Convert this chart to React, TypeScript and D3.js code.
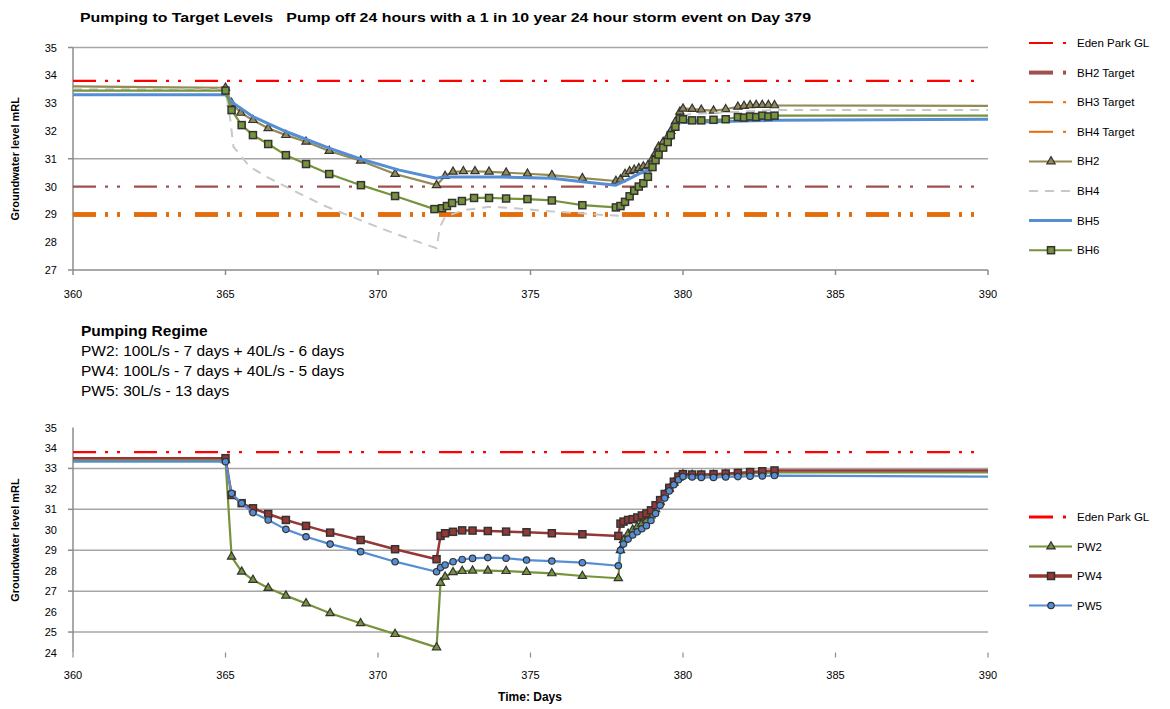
import React from "react";
import * as d3 from "d3";

// ---------- axis data ----------
const xTicks = [360, 365, 370, 375, 380, 385, 390];
const topYTicks = [27, 28, 29, 30, 31, 32, 33, 34, 35];
const topGridValues = [35, 31];
const topAxisTickValues = [35, 31, 27];
const bottomYTicks = [24, 25, 26, 27, 28, 29, 30, 31, 32, 33, 34, 35];
const bottomGridValues = [33, 31, 29, 27, 25];

// ---------- reference levels ----------
const edenParkGL = 33.8;
const bh2Target = 30;
const bh3Target = 29;
const bh4Target = 29;

// ---------- top chart series ----------
const bh2Days = [360, 365, 365.2, 365.5, 365.9, 366.4, 366.98, 367.64, 368.4, 369.43, 370.56, 371.92, 372.2, 372.46, 372.8, 373.18, 373.64, 374.2, 374.9, 375.7, 376.7, 377.8, 377.95, 378.1, 378.25, 378.4, 378.55, 378.7, 378.85, 379.0, 379.1, 379.2, 379.35, 379.5, 379.6, 379.75, 379.9, 380.0, 380.3, 380.6, 381.0, 381.4, 381.8, 382.0, 382.2, 382.4, 382.6, 382.8, 383.0, 390];
const bh2Values = [33.6, 33.55, 33.0, 32.65, 32.39, 32.1, 31.85, 31.61, 31.28, 30.93, 30.45, 30.05, 30.38, 30.53, 30.55, 30.55, 30.53, 30.5, 30.46, 30.41, 30.3, 30.2, 30.25, 30.45, 30.55, 30.6, 30.66, 30.72, 30.77, 31.0, 31.2, 31.43, 31.6, 31.79, 32.0, 32.33, 32.69, 32.8, 32.79, 32.76, 32.73, 32.78, 32.87, 32.9, 32.92, 32.93, 32.93, 32.93, 32.92, 32.9];

const bh4Days = [360, 365, 365.16, 365.26, 365.8, 366.35, 367.1, 368.2, 369.4, 370.5, 371.92, 372.03, 372.2, 372.8, 373.67, 374.5, 375.5, 376.5, 377.5, 377.9, 378.3, 378.7, 379.0, 379.3, 379.6, 379.9, 380.2, 381, 382, 383, 390];
const bh4Values = [33.5, 33.5, 32.39, 31.43, 30.71, 30.35, 29.93, 29.33, 28.8, 28.33, 27.78, 28.55, 28.91, 29.15, 29.27, 29.22, 29.12, 29.05, 28.97, 28.95, 29.6, 30.2, 30.7, 31.3, 31.9, 32.5, 32.6, 32.65, 32.7, 32.75, 32.75];

const bh5Days = [360, 365, 365.26, 365.9, 367.0, 368.4, 369.4, 370.7, 371.92, 372.1, 374.0, 375.7, 376.7, 377.8, 378.15, 378.6, 378.9, 379.25, 379.57, 379.84, 380.0, 383, 390];
const bh5Values = [33.3, 33.3, 33.0, 32.51, 31.97, 31.38, 31.0, 30.59, 30.3, 30.34, 30.34, 30.3, 30.17, 30.05, 30.23, 30.48, 30.59, 31.13, 31.92, 32.39, 32.3, 32.38, 32.42];

const bh6Days = [360, 365, 365.2, 365.53, 365.9, 366.4, 366.98, 367.64, 368.4, 369.44, 370.56, 371.85, 372.1, 372.26, 372.43, 372.75, 373.15, 373.64, 374.2, 374.9, 375.7, 376.7, 377.8, 377.95, 378.1, 378.25, 378.4, 378.55, 378.7, 378.85, 379.0, 379.1, 379.2, 379.35, 379.5, 379.6, 379.75, 379.9, 380.0, 380.3, 380.6, 381.0, 381.4, 381.8, 382.0, 382.2, 382.4, 382.6, 382.8, 383.0, 390];
const bh6Values = [33.45, 33.45, 32.75, 32.21, 31.85, 31.53, 31.13, 30.81, 30.45, 30.05, 29.66, 29.19, 29.22, 29.3, 29.41, 29.48, 29.59, 29.59, 29.57, 29.55, 29.5, 29.33, 29.25, 29.3, 29.45, 29.65, 29.85, 30.0, 30.12, 30.35, 30.7, 30.95, 31.15, 31.4, 31.6, 31.85, 32.15, 32.45, 32.42, 32.38, 32.38, 32.4, 32.42, 32.5, 32.48, 32.52, 32.5, 32.55, 32.52, 32.55, 32.55];

// ---------- bottom chart series ----------
const pwDays = [360, 365, 365.2, 365.53, 365.9, 366.4, 366.98, 367.64, 368.43, 369.43, 370.56, 371.92, 372.05, 372.2, 372.46, 372.76, 373.1, 373.6, 374.2, 374.87, 375.7, 376.7, 377.88, 377.95, 378.05, 378.2, 378.35, 378.5, 378.65, 378.8, 378.95, 379.1, 379.25, 379.4, 379.55, 379.7, 379.85, 380.0, 380.3, 380.6, 381.0, 381.4, 381.8, 382.2, 382.6, 383.0, 390];
const pw2Values = [33.4, 33.4, 28.68, 27.95, 27.55, 27.15, 26.78, 26.4, 25.92, 25.43, 24.9, 24.25, 27.4, 27.7, 27.92, 27.98, 28.0, 28.0, 27.98, 27.93, 27.87, 27.74, 27.63, 29.0, 29.5, 29.8, 30.0, 30.15, 30.3, 30.45, 30.7, 31.0, 31.35, 31.7, 32.0, 32.3, 32.55, 32.7, 32.68, 32.66, 32.68, 32.7, 32.72, 32.75, 32.78, 32.8, 32.8];
const pw4Values = [33.5, 33.5, 31.7, 31.3, 31.05, 30.77, 30.48, 30.19, 29.86, 29.5, 29.05, 28.56, 29.7, 29.83, 29.9, 29.97, 29.96, 29.94, 29.91, 29.88, 29.83, 29.78, 29.7, 30.3, 30.4, 30.48, 30.52, 30.6, 30.7, 30.8, 30.95, 31.2, 31.45, 31.75, 32.05, 32.35, 32.6, 32.72, 32.7, 32.7, 32.72, 32.75, 32.78, 32.82, 32.86, 32.9, 32.9];
const pw5Values = [33.33, 33.33, 31.78, 31.3, 30.84, 30.48, 30.02, 29.66, 29.3, 28.93, 28.44, 27.95, 28.15, 28.28, 28.44, 28.55, 28.6, 28.64, 28.61, 28.52, 28.47, 28.39, 28.24, 29.0, 29.3, 29.55, 29.75, 29.9, 30.05, 30.2, 30.45, 30.8, 31.2, 31.55, 31.9, 32.2, 32.45, 32.6, 32.58, 32.56, 32.56, 32.58, 32.6, 32.62, 32.63, 32.65, 32.6];

// ---------- text ----------
const topTitle = "Pumping to Target Levels   Pump off 24 hours with a 1 in 10 year 24 hour storm event on Day 379";
const regimeLines = [
  "Pumping Regime",
  "PW2: 100L/s - 7 days + 40L/s - 6 days",
  "PW4: 100L/s - 7 days + 40L/s - 5 days",
  "PW5: 30L/s - 13 days",
];
const yTitle = "Groundwater level mRL";
const xTitle = "Time: Days";
const topLegendLabels = ["Eden Park GL", "BH2 Target", "BH3 Target", "BH4 Target", "BH2", "BH4", "BH5", "BH6"];
const bottomLegendLabels = ["Eden Park GL", "PW2", "PW4", "PW5"];

const FONT = "'Liberation Sans', Arial, sans-serif";
const C = {
  red: "#FF0000",
  brownRed: "#A0504E",
  orange: "#E46C0A",
  khaki: "#948A54",
  grey: "#C8C8C8",
  blue: "#558ED5",
  green: "#77933C",
  pw4: "#953735",
  axis: "#8C8C8C",
  grid: "#A6A6A6",
  edge: "#333333",
};
const DASH_DOT_DOT = "23,9,3,9,3,14";

type MarkerKind = "triangle" | "square" | "circle" | null;

function Marker({ kind, x, y, fill }: { kind: MarkerKind; x: number; y: number; fill: string }) {
  if (!kind) return null;
  if (kind === "square") {
    return <rect x={x - 3.5} y={y - 3.5} width={7} height={7} fill={fill} stroke={C.edge} strokeWidth={1.5} />;
  }
  if (kind === "circle") {
    return <circle cx={x} cy={y} r={3.2} fill={fill} stroke={C.edge} strokeWidth={1.2} />;
  }
  const p = d3.symbol(d3.symbolTriangle, 30)();
  return <path d={p || ""} transform={`translate(${x},${y})`} fill={fill} stroke={C.edge} strokeWidth={1.2} />;
}

function Series({
  days, values, x, y, color, width, dash, marker,
}: {
  days: number[]; values: number[]; x: d3.ScaleLinear<number, number>; y: d3.ScaleLinear<number, number>;
  color: string; width: number; dash?: string; marker: MarkerKind;
}) {
  const pts: [number, number][] = days.map((d, i) => [d, values[i]]);
  const line = d3.line<[number, number]>().x((p) => x(p[0])).y((p) => y(p[1]));
  return (
    <g>
      <path d={line(pts) || ""} fill="none" stroke={color} strokeWidth={width} strokeDasharray={dash} strokeLinejoin="round" />
      {marker &&
        pts
          .filter((p) => p[0] > 360 && p[0] < 389)
          .map((p, i) => <Marker key={i} kind={marker} x={x(p[0])} y={y(p[1])} fill={color} />)}
    </g>
  );
}

function HRef({ value, x, y, color, width }: { value: number; x: d3.ScaleLinear<number, number>; y: d3.ScaleLinear<number, number>; color: string; width: number }) {
  return (
    <line x1={x(360)} x2={x(390)} y1={y(value)} y2={y(value)} stroke={color} strokeWidth={width} strokeDasharray={DASH_DOT_DOT} />
  );
}

function LegendEntry({ label, yPos, color, width, kind, marker, dash }: {
  label: string; yPos: number; color: string; width: number; kind: "dashdot" | "line"; marker?: MarkerKind; dash?: string;
}) {
  return (
    <g>
      {kind === "dashdot" ? (
        <>
          <line x1={1029} x2={1053} y1={yPos} y2={yPos} stroke={color} strokeWidth={width} />
          <line x1={1063} x2={1066} y1={yPos} y2={yPos} stroke={color} strokeWidth={width} />
        </>
      ) : (
        <line x1={1029} x2={1072} y1={yPos} y2={yPos} stroke={color} strokeWidth={width} strokeDasharray={dash} />
      )}
      {marker && <Marker kind={marker} x={1051} y={yPos} fill={color} />}
      <text x={1077} y={yPos + 4} fontSize={11.5} fontFamily={FONT} fill="#000">{label}</text>
    </g>
  );
}

export default function App() {
  const xTop = d3.scaleLinear().domain([360, 390]).range([73, 988]);
  const yTop = d3.scaleLinear().domain([27, 35]).range([270, 47.5]);
  const xBot = d3.scaleLinear().domain([360, 390]).range([73, 988]);
  const yBot = d3.scaleLinear().domain([24, 35]).range([652.5, 427.5]);

  const topLegendY = topLegendLabels.map((_, i) => 43 + i * 29.6);
  const botLegendY = bottomLegendLabels.map((_, i) => 517 + i * 29.5);

  return (
    <svg width={1170} height={709} style={{ position: "absolute", left: 0, top: 0, background: "#fff" }}>
      <rect width={1170} height={709} fill="#fff" />
      {/* ---------- TOP CHART ---------- */}
      <text x={80} y={22} fontSize={13} fontWeight="bold" fontFamily={FONT} textLength={731} lengthAdjust="spacingAndGlyphs" style={{ whiteSpace: "pre" }}>{topTitle}</text>
      {topGridValues.map((v) => (
        <line key={v} x1={xTop(360)} x2={xTop(390)} y1={yTop(v)} y2={yTop(v)} stroke={C.grid} strokeWidth={1.5} />
      ))}
      <line x1={xTop(360)} x2={xTop(390)} y1={yTop(27)} y2={yTop(27)} stroke={C.axis} strokeWidth={1.5} />
      <line x1={xTop(360)} x2={xTop(360)} y1={yTop(35)} y2={yTop(27)} stroke={C.axis} strokeWidth={1.5} />
      {topAxisTickValues.map((v) => (
        <line key={v} x1={xTop(360) - 5} x2={xTop(360)} y1={yTop(v)} y2={yTop(v)} stroke={C.axis} strokeWidth={1.5} />
      ))}
      {xTicks.map((t) => (
        <line key={t} x1={xTop(t)} x2={xTop(t)} y1={yTop(27)} y2={yTop(27) + 5} stroke={C.axis} strokeWidth={1.5} />
      ))}
      {topYTicks.map((t) => (
        <text key={t} x={57} y={yTop(t) + 4} textAnchor="end" fontSize={11} fontFamily={FONT}>{t}</text>
      ))}
      {xTicks.map((t) => (
        <text key={t} x={xTop(t)} y={298} textAnchor="middle" fontSize={11} fontFamily={FONT}>{t}</text>
      ))}
      <text transform={`translate(19,${(yTop(35) + yTop(27)) / 2}) rotate(-90)`} textAnchor="middle" fontSize={11} fontWeight="bold" fontFamily={FONT}>{yTitle}</text>

      <HRef value={edenParkGL} x={xTop} y={yTop} color={C.red} width={2.2} />
      <HRef value={bh2Target} x={xTop} y={yTop} color={C.brownRed} width={2.2} />
      <HRef value={bh3Target} x={xTop} y={yTop} color={C.orange} width={4.5} />
      <HRef value={bh4Target} x={xTop} y={yTop} color={C.orange} width={4.5} />

      <Series days={bh2Days} values={bh2Values} x={xTop} y={yTop} color={C.khaki} width={2.2} marker="triangle" />
      <Series days={bh4Days} values={bh4Values} x={xTop} y={yTop} color={C.grey} width={2} dash="9,7" marker={null} />
      <Series days={bh5Days} values={bh5Values} x={xTop} y={yTop} color={C.blue} width={3} marker={null} />
      <Series days={bh6Days} values={bh6Values} x={xTop} y={yTop} color={C.green} width={2.2} marker="square" />

      <LegendEntry label={topLegendLabels[0]} yPos={topLegendY[0]} color={C.red} width={2} kind="dashdot" />
      <LegendEntry label={topLegendLabels[1]} yPos={topLegendY[1]} color={C.brownRed} width={4} kind="dashdot" />
      <LegendEntry label={topLegendLabels[2]} yPos={topLegendY[2]} color={C.orange} width={2} kind="dashdot" />
      <LegendEntry label={topLegendLabels[3]} yPos={topLegendY[3]} color={C.orange} width={2} kind="dashdot" />
      <LegendEntry label={topLegendLabels[4]} yPos={topLegendY[4]} color={C.khaki} width={2} kind="line" marker="triangle" />
      <LegendEntry label={topLegendLabels[5]} yPos={topLegendY[5]} color={C.grey} width={2} kind="line" dash="9,7" />
      <LegendEntry label={topLegendLabels[6]} yPos={topLegendY[6]} color={C.blue} width={3} kind="line" />
      <LegendEntry label={topLegendLabels[7]} yPos={topLegendY[7]} color={C.green} width={2} kind="line" marker="square" />

      {/* ---------- REGIME TEXT ---------- */}
      {regimeLines.map((s, i) => (
        <text key={i} x={81} y={336 + i * 20} fontSize={15.5} fontWeight={i === 0 ? "bold" : "normal"} fontFamily={FONT}>{s}</text>
      ))}

      {/* ---------- BOTTOM CHART ---------- */}
      {bottomGridValues.map((v) => (
        <line key={v} x1={xBot(360)} x2={xBot(390)} y1={yBot(v)} y2={yBot(v)} stroke={C.grid} strokeWidth={1.5} />
      ))}
      <line x1={xBot(360)} x2={xBot(360)} y1={yBot(35)} y2={yBot(24)} stroke={C.axis} strokeWidth={1.5} />
      {bottomGridValues.map((v) => (
        <line key={v} x1={xBot(360) - 5} x2={xBot(360)} y1={yBot(v)} y2={yBot(v)} stroke={C.axis} strokeWidth={1.5} />
      ))}
      {xTicks.map((t) => (
        <line key={t} x1={xBot(t)} x2={xBot(t)} y1={yBot(24)} y2={yBot(24) + 5} stroke={C.axis} strokeWidth={1.2} />
      ))}
      {bottomYTicks.map((t) => (
        <text key={t} x={57} y={yBot(t) + 4} textAnchor="end" fontSize={11} fontFamily={FONT}>{t}</text>
      ))}
      {xTicks.map((t) => (
        <text key={t} x={xBot(t)} y={679} textAnchor="middle" fontSize={11} fontFamily={FONT}>{t}</text>
      ))}
      <text transform={`translate(19,${(yBot(35) + yBot(24)) / 2}) rotate(-90)`} textAnchor="middle" fontSize={11} fontWeight="bold" fontFamily={FONT}>{yTitle}</text>
      <text x={530} y={701} textAnchor="middle" fontSize={12} fontWeight="bold" fontFamily={FONT}>{xTitle}</text>

      <HRef value={edenParkGL} x={xBot} y={yBot} color={C.red} width={2.2} />
      <Series days={pwDays} values={pw2Values} x={xBot} y={yBot} color={C.green} width={2.2} marker="triangle" />
      <Series days={pwDays} values={pw4Values} x={xBot} y={yBot} color={C.pw4} width={2.5} marker="square" />
      <Series days={pwDays} values={pw5Values} x={xBot} y={yBot} color={C.blue} width={2.2} marker="circle" />

      <LegendEntry label={bottomLegendLabels[0]} yPos={botLegendY[0]} color={C.red} width={3} kind="dashdot" />
      <LegendEntry label={bottomLegendLabels[1]} yPos={botLegendY[1]} color={C.green} width={2} kind="line" marker="triangle" />
      <LegendEntry label={bottomLegendLabels[2]} yPos={botLegendY[2]} color={C.pw4} width={3.5} kind="line" marker="square" />
      <LegendEntry label={bottomLegendLabels[3]} yPos={botLegendY[3]} color={C.blue} width={2} kind="line" marker="circle" />
    </svg>
  );
}
